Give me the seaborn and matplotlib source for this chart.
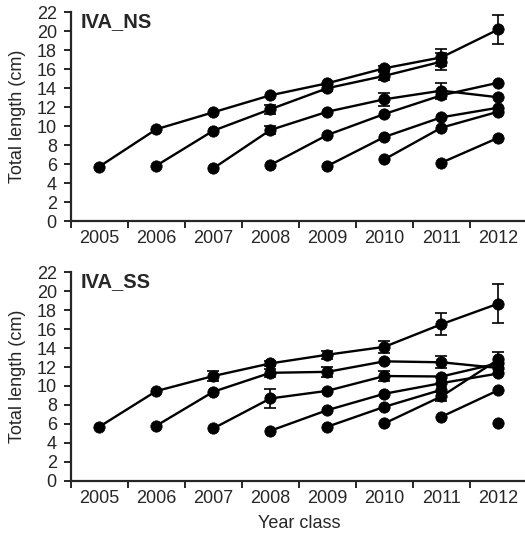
import numpy as np
import pandas as pd
import matplotlib
matplotlib.use("Agg")
import matplotlib.pyplot as plt
import seaborn as sns

nan = np.nan
years = [2005, 2006, 2007, 2008, 2009, 2010, 2011, 2012]
year_labels = ["2005", "2006", "2007", "2008", "2009", "2010", "2011", "2012"]
panel_titles = ["IVA_NS", "IVA_SS"]

# ---- IVA_NS: mean total length per cohort (year class) ----
ns_c2005 = [5.73, 9.67, 11.46, 13.25, 14.52, 16.10, 17.25, 20.20]
ns_c2006 = [nan, 5.83, 9.52, 11.78, 14.00, 15.30, 16.80, nan]
ns_c2007 = [nan, nan, 5.55, 9.59, 11.52, 12.83, 13.74, 13.04]
ns_c2008 = [nan, nan, nan, 5.90, 9.07, 11.28, 13.25, 14.58]
ns_c2009 = [nan, nan, nan, nan, 5.80, 8.86, 10.93, 11.95]
ns_c2010 = [nan, nan, nan, nan, nan, 6.50, 9.84, 11.53]
ns_c2011 = [nan, nan, nan, nan, nan, nan, 6.15, 8.78]

ns_e2005 = [0, 0, 0, 0, 0, 0.25, 0.90, 1.50]
ns_e2006 = [0, 0, 0, 0.45, 0.30, 0.40, 0.90, 0]
ns_e2007 = [0, 0, 0, 0.40, 0, 0.70, 0.85, 0]
ns_e2008 = [0, 0, 0, 0, 0, 0, 0, 0]
ns_e2009 = [0, 0, 0, 0, 0, 0, 0, 0]
ns_e2010 = [0, 0, 0, 0, 0, 0, 0, 0]
ns_e2011 = [0, 0, 0, 0, 0, 0, 0, 0]

# ---- IVA_SS ----
ss_c2005 = [5.69, 9.46, 11.05, 12.38, 13.30, 14.13, 16.52, 18.70]
ss_c2006 = [nan, 5.80, 9.39, 11.39, 11.49, 12.60, 12.50, 11.90]
ss_c2007 = [nan, nan, 5.52, 8.68, 9.49, 11.05, 11.00, 12.40]
ss_c2008 = [nan, nan, nan, 5.27, 7.45, 9.18, 10.30, 11.32]
ss_c2009 = [nan, nan, nan, nan, 5.70, 7.80, 9.60, nan]
ss_c2010 = [nan, nan, nan, nan, nan, 6.05, 8.90, 12.80]
ss_c2011 = [nan, nan, nan, nan, nan, nan, 6.75, 9.56]
ss_c2012 = [nan, nan, nan, nan, nan, nan, nan, 6.05]

ss_e2005 = [0, 0, 0.55, 0.30, 0.40, 0.60, 1.15, 2.10]
ss_e2006 = [0, 0, 0, 0.45, 0.50, 0, 0.65, 0]
ss_e2007 = [0, 0, 0, 1.05, 0, 0.50, 0, 0]
ss_e2008 = [0, 0, 0, 0, 0, 0, 0, 0]
ss_e2009 = [0, 0, 0, 0, 0, 0, 0, 0]
ss_e2010 = [0, 0, 0, 0, 0, 0, 0.50, 0.75]
ss_e2011 = [0, 0, 0, 0, 0, 0, 0, 0]
ss_e2012 = [0, 0, 0, 0, 0, 0, 0, 0]

ns_means = [ns_c2005, ns_c2006, ns_c2007, ns_c2008, ns_c2009, ns_c2010, ns_c2011]
ns_errs = [ns_e2005, ns_e2006, ns_e2007, ns_e2008, ns_e2009, ns_e2010, ns_e2011]
ss_means = [ss_c2005, ss_c2006, ss_c2007, ss_c2008, ss_c2009, ss_c2010, ss_c2011, ss_c2012]
ss_errs = [ss_e2005, ss_e2006, ss_e2007, ss_e2008, ss_e2009, ss_e2010, ss_e2011, ss_e2012]


def build(means, errs):
    rows = []
    for ci, (m, e) in enumerate(zip(means, errs)):
        for y, v, s in zip(years, m, e):
            if not np.isnan(v):
                rows.append({"year": y, "length": v, "sd": s, "cohort": years[ci]})
    return pd.DataFrame(rows)


sns.set_style("ticks")
plt.rcParams["font.family"] = ["Liberation Sans", "DejaVu Sans"]

W, H = 525, 534
fig = plt.figure(figsize=(W / 100, H / 100), dpi=100)

ax_pos = [
    (70.7, 12.3, 221.0),
    (70.7, 272.3, 480.7),
]

for (x0, ytop, ybot), title, means, errs in zip(ax_pos, panel_titles,
                                                  [ns_means, ss_means],
                                                  [ns_errs, ss_errs]):
    ax = fig.add_axes([x0 / W, 1 - ybot / H, (527 - x0) / W, (ybot - ytop) / H])
    df = build(means, errs)
    sns.lineplot(data=df, x="year", y="length", units="cohort", estimator=None,
                 color="black", marker="o", markersize=8.2, markeredgecolor="black",
                 markeredgewidth=0.5, linewidth=1.7, ax=ax, legend=False)
    eb = df[df["sd"] > 0]
    ax.errorbar(eb["year"], eb["length"], yerr=eb["sd"], fmt="none", ecolor="black",
                elinewidth=1.2, capsize=4, capthick=1.2, zorder=3)
    for ln in ax.lines:
        ln.set_clip_on(False)

    ax.set_xlim(2004.5, 2012.5)
    ax.set_ylim(0, 22)
    ax.set_xticks(years)
    ax.set_xticklabels(year_labels, fontsize=13)
    ax.set_xticks([y - 0.5 for y in years] + [2012.5], minor=True)
    ax.tick_params(axis="x", which="major", length=0, pad=6.5)
    ax.tick_params(axis="x", which="minor", length=5, width=1.4, direction="out")
    ax.set_yticks(range(0, 23, 2))
    ax.tick_params(axis="y", which="major", length=5, width=1.4, pad=5, labelsize=13)
    for s in ["top", "right"]:
        ax.spines[s].set_visible(False)
    for s in ["left", "bottom"]:
        ax.spines[s].set_linewidth(1.6)
    ax.set_ylabel("Total length (cm)", fontsize=13, labelpad=8)
    ax.set_xlabel("")
    ax.text(0.022, 1.0, title, transform=ax.transAxes, fontsize=14.5,
            fontweight="bold", va="top", ha="left")

fig.axes[1].set_xlabel("Year class", fontsize=13, labelpad=6)

fig.savefig("out.png", dpi=100)
